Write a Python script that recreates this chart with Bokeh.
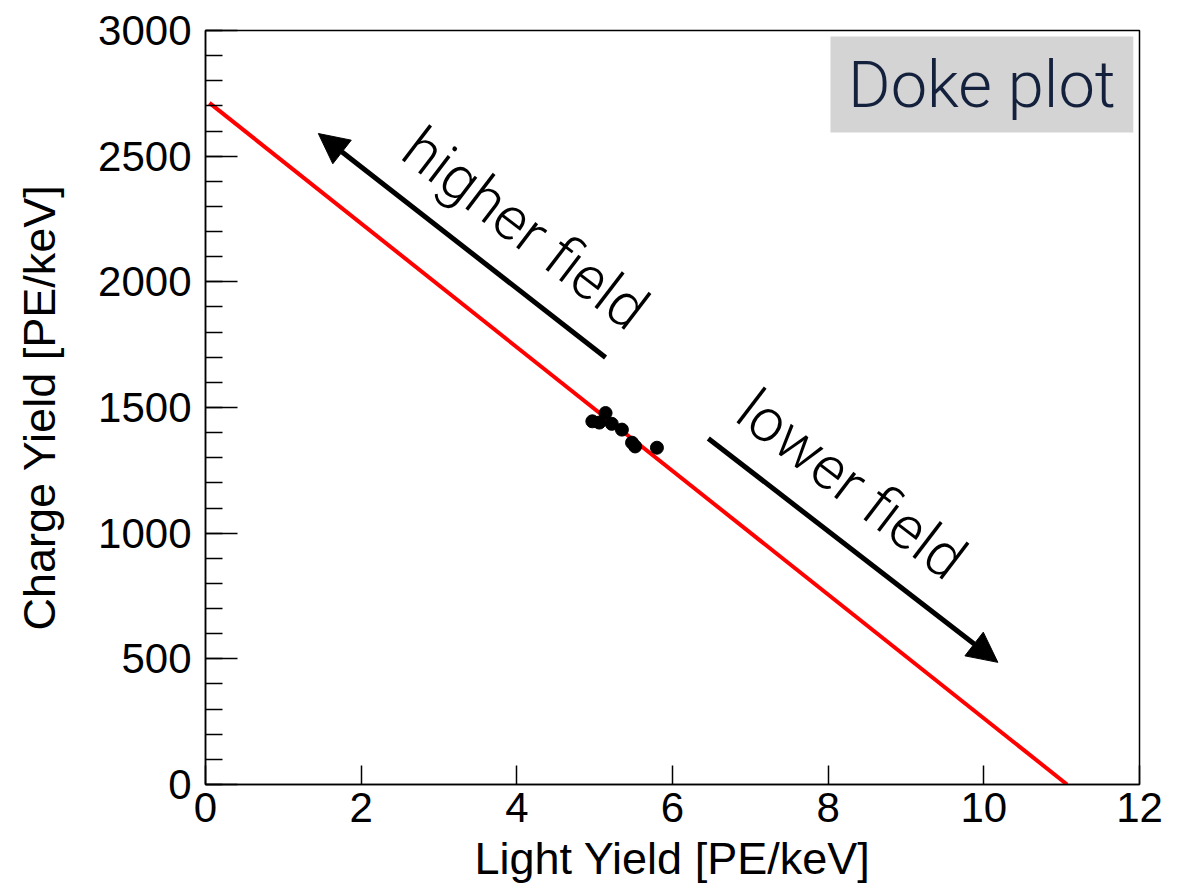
from bokeh.plotting import figure
from bokeh.models import Range1d, Arrow, NormalHead, BoxAnnotation, ColumnDataSource, FixedTicker
from bokeh.core.properties import value
from bokeh.embed import file_html
from bokeh.resources import INLINE
import math

# ---- data ----
light_yield = [4.97, 5.06, 5.14, 5.22, 5.35, 5.48, 5.52, 5.80]
charge_yield = [1445, 1440, 1478, 1435, 1412, 1360, 1345, 1340]

fit_x = [0.05, 11.07]
fit_y = [2712, 0]

x_ticks = [0, 2, 4, 6, 8, 10, 12]
y_ticks = [0, 500, 1000, 1500, 2000, 2500, 3000]
y_minor = list(range(0, 3001, 100))

arrow_labels = ["higher field", "lower field"]
arrow_label_x = [4.11, 8.30]
arrow_label_y = [2212, 1194]
arrow_x_start = [5.14, 6.46]
arrow_y_start = [1699, 1377]
arrow_x_end = [1.45, 10.18]
arrow_y_end = [2590, 486]

title_text = "Doke plot"

# ---- figure ----
p = figure(width=1189, height=891, output_backend="svg", toolbar_location=None,
           x_range=Range1d(0, 12), y_range=Range1d(0, 3000),
           min_border_left=205, min_border_right=50, min_border_top=30, min_border_bottom=107)
p.background_fill_color = "white"
p.border_fill_color = "white"
p.outline_line_color = "black"
p.outline_line_width = 1.5
p.xgrid.visible = False
p.ygrid.visible = False

FONT = "Liberation Sans"
THIN = "Roboto Light"

p.xaxis.ticker = FixedTicker(ticks=x_ticks)
p.yaxis.ticker = FixedTicker(ticks=y_ticks, minor_ticks=y_minor)
for ax in (p.xaxis[0], p.yaxis[0]):
    ax.axis_line_color = "black"
    ax.axis_line_width = 1.5
    ax.major_tick_line_color = "black"
    ax.minor_tick_line_color = "black"
    ax.major_tick_line_width = 1.5
    ax.minor_tick_line_width = 1.5
    ax.major_tick_out = 0
    ax.minor_tick_out = 0
    ax.major_label_text_font = FONT
    ax.major_label_text_font_size = "42px"
    ax.major_label_text_color = "black"
    ax.axis_label_text_font = FONT
    ax.axis_label_text_font_size = "45px"
    ax.axis_label_text_font_style = "normal"
    ax.axis_label_text_color = "black"

p.xaxis.major_tick_in = 19
p.xaxis.minor_tick_in = 0
p.yaxis.major_tick_in = 32
p.yaxis.minor_tick_in = 17
p.xaxis.major_label_standoff = 8
p.yaxis.major_label_standoff = 14
p.xaxis.axis_label = "Light Yield [PE/keV]"
p.yaxis.axis_label = "Charge Yield [PE/keV]"
p.xaxis.axis_label_standoff = 8
p.yaxis.axis_label_standoff = 30

# title box (under glyphs)
p.add_layout(BoxAnnotation(left=8.03, right=11.92, bottom=2594, top=2976,
                           fill_color="#d4d4d4", fill_alpha=1.0, line_color=None,
                           level="underlay"))

# fit line
p.line(fit_x, fit_y, line_color="#ff0000", line_width=4)

# data points
p.scatter(light_yield, charge_yield, size=13, color="black")

# arrows
for xs, ys, xe, ye in zip(arrow_x_start, arrow_y_start, arrow_x_end, arrow_y_end):
    p.add_layout(Arrow(end=NormalHead(size=30, fill_color="black", line_color="black"),
                       x_start=xs, y_start=ys, x_end=xe, y_end=ye,
                       line_color="black", line_width=5))

ang = -math.atan2(220, 288)
src = ColumnDataSource(dict(x=arrow_label_x, y=arrow_label_y, t=arrow_labels))
p.text(x="x", y="y", text="t", source=src, angle=ang, text_align="center",
       text_baseline="middle", text_font=value(THIN), text_font_size="60px",
       text_color="black")

p.text(x=[9.975], y=[2785], text=[title_text], text_align="center", text_baseline="middle",
       text_font=value(THIN), text_font_size="65px", text_color="#14213d")

open("out.html", "w").write(file_html(p, INLINE))
